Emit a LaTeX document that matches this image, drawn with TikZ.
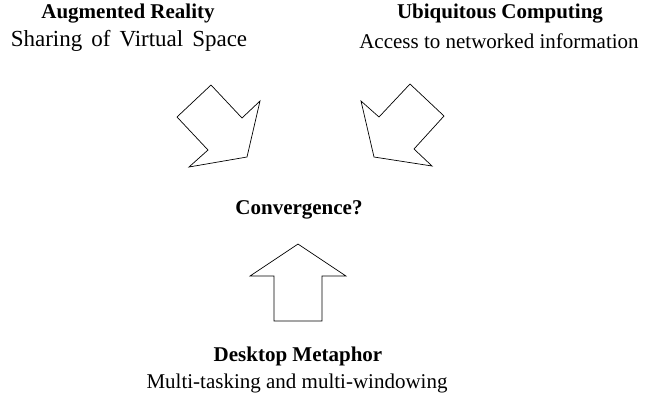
\documentclass[tikz,border=0pt]{standalone}
\usepackage{fontspec}
\setmainfont{Liberation Serif}
\usepackage{tikz}

\begin{document}
\begin{tikzpicture}[x=1pt, y=-1pt,
    title/.style = {font=\fontsize{21}{25}\selectfont\bfseries},
    sub/.style = {font=\fontsize{21}{25}\selectfont},
    blockarrow/.style = {draw, line width=0.7pt, line join=miter}]
\useasboundingbox (0,0) rectangle (645,400);
\node[title] (ar) at (128,14) {Augmented Reality};
\node[sub, font={\fontsize{23}{27}\selectfont\spaceskip=9pt\relax}] (arsub) at (129,41) {Sharing of Virtual Space};
\node[title] (uc) at (500,14) {Ubiquitous Computing};
\node[sub] (ucsub) at (499,41) {Access to networked information};
\node[title] (conv) at (299,210) {Convergence?};
\node[title] (dm) at (298,356) {Desktop Metaphor};
\node[sub] (dmsub) at (297,383) {Multi-tasking and multi-windowing};
% block arrows
\draw[blockarrow] (211,85) -- (242,118) -- (260,101) -- (247,157)
    -- (189,167) -- (208,150) -- (177,117) -- cycle;
\draw[blockarrow] (410,84) -- (444,116) -- (414,149) -- (432,166)
    -- (374,157) -- (361,101) -- (379,117) -- cycle;
\draw[blockarrow] (298,244) -- (346,276) -- (322,276) -- (322,321)
    -- (274,321) -- (274,276) -- (250,276) -- cycle;
\end{tikzpicture}
\end{document}
